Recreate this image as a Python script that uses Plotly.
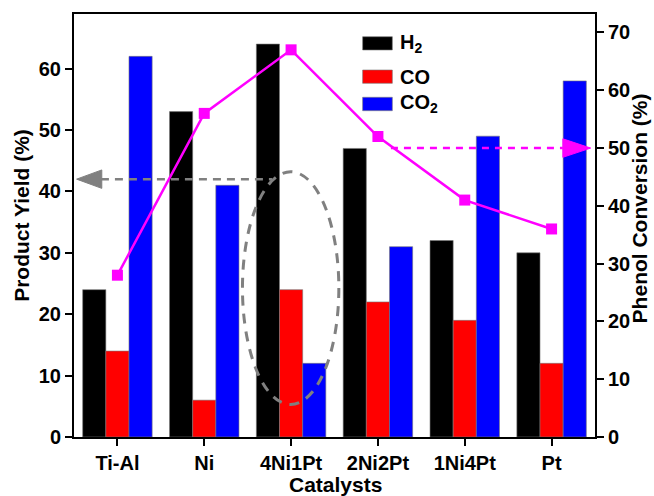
import plotly.graph_objects as go

# Catalyst screening: product yields (left axis) and phenol conversion (right axis)
catalysts = ["Ti-Al", "Ni", "4Ni1Pt", "2Ni2Pt", "1Ni4Pt", "Pt"]
h2_yield = [24, 53, 64, 47, 32, 30]
co_yield = [14, 6, 24, 22, 19, 12]
co2_yield = [62, 41, 12, 31, 49, 58]
phenol_conversion = [28, 56, 67, 52, 41, 36]

yield_ticks = [0, 10, 20, 30, 40, 50, 60]
conversion_ticks = [0, 10, 20, 30, 40, 50, 60, 70]

# reference levels pointed at by the dashed arrows
yield_marker_level = 42
conversion_marker_level = 50

FONT = "Liberation Sans, Arial, sans-serif"
x_idx = list(range(len(catalysts)))

fig = go.Figure()
for name, vals, color in [("H<sub>2</sub>", h2_yield, "#000000"),
                          ("CO", co_yield, "#FF0000"),
                          ("CO<sub>2</sub>", co2_yield, "#0000FF")]:
    fig.add_trace(go.Bar(x=x_idx, y=vals, name=name, marker_color=color,
                         marker_line=dict(color="#777777", width=0.6),
                         showlegend=False))

fig.add_trace(go.Scatter(x=x_idx, y=phenol_conversion, yaxis="y2",
                         mode="lines+markers", name="Phenol conversion",
                         line=dict(color="#FF00FF", width=2.5),
                         marker=dict(symbol="square", size=11, color="#FF00FF"),
                         showlegend=False))

shapes = []
# gray dashed arrow toward the yield axis
shapes.append(dict(type="line", xref="x", yref="y", x0=-0.19, x1=1.78,
                   y0=yield_marker_level, y1=yield_marker_level,
                   line=dict(color="#808080", width=2.5, dash="8px,6px")))
shapes.append(dict(type="path", xref="x", yref="y",
                   path=f"M -0.47,{yield_marker_level} L -0.18,{yield_marker_level + 1.5} "
                        f"L -0.18,{yield_marker_level - 1.5} Z",
                   fillcolor="#808080", line=dict(color="#808080", width=1)))
# magenta dashed arrow toward the conversion axis
shapes.append(dict(type="line", xref="x", yref="y2", x0=3.15, x1=5.13,
                   y0=conversion_marker_level, y1=conversion_marker_level,
                   line=dict(color="#FF00FF", width=2.5, dash="7px,6px")))
shapes.append(dict(type="path", xref="x", yref="y2",
                   path=f"M 5.45,{conversion_marker_level} L 5.13,{conversion_marker_level + 1.6} "
                        f"L 5.13,{conversion_marker_level - 1.6} Z",
                   fillcolor="#FF00FF", line=dict(color="#FF00FF", width=1)))
# dashed ellipse around the 4Ni1Pt group
shapes.append(dict(type="circle", xref="x", yref="y", x0=1.44, x1=2.55, y0=5.3, y1=43.2,
                   line=dict(color="#808080", width=3, dash="10px,8px")))

# hand-drawn legend
legend_items = [("H<sub>2</sub>", "#000000", 0.9463, 0.9149),
                ("CO", "#FF0000", 0.8676, 0.8362),
                ("CO<sub>2</sub>", "#0000FF", 0.8031, 0.7714)]
annotations = []
for label, color, ytop, ybot in legend_items:
    shapes.append(dict(type="rect", xref="paper", yref="paper", x0=0.554, x1=0.611,
                       y0=ybot, y1=ytop, fillcolor=color,
                       line=dict(color="#777777", width=0.6)))
    annotations.append(dict(xref="paper", yref="paper", x=0.622, y=(ytop + ybot) / 2,
                            text=f"<b>{label}</b>", showarrow=False, xanchor="left",
                            yanchor="middle", font=dict(size=20, family=FONT, color="black")))

# axis titles
title_font = dict(size=21, family=FONT, color="black")
annotations.append(dict(xref="paper", yref="paper", x=-0.10, y=0.525,
                        xanchor="center", yanchor="middle",
                        text="<b>Product Yield (%)</b>", textangle=-90, showarrow=False,
                        font=title_font))
annotations.append(dict(xref="paper", yref="paper", x=1.086, y=0.54,
                        xanchor="center", yanchor="middle",
                        text="<b>Phenol Conversion (%)</b>", textangle=-90, showarrow=False,
                        font=title_font))
annotations.append(dict(xref="paper", yref="paper", x=0.501, y=-0.112,
                        xanchor="center", yanchor="middle",
                        text="<b>Catalysts</b>", showarrow=False,
                        font=title_font))

tick_font = dict(size=20, family=FONT, color="black")
fig.update_layout(
    width=654, height=496,
    margin=dict(l=74, r=59, t=14, b=59),
    paper_bgcolor="white", plot_bgcolor="white",
    barmode="group", bargap=0.2, bargroupgap=0,
    font=dict(family=FONT, color="black"),
    xaxis=dict(range=[-0.5, 5.5], tickmode="array", tickvals=x_idx,
               ticktext=[f"<b>{c}</b>" for c in catalysts], tickfont=tick_font,
               showline=True, linecolor="black", linewidth=2, mirror=True,
               ticks="outside", ticklen=7, tickwidth=2, tickcolor="black",
               showgrid=False, zeroline=False, automargin=False),
    yaxis=dict(range=[0, 68.9], tickmode="array", tickvals=yield_ticks,
               ticktext=[f"<b>{t}</b>" for t in yield_ticks], tickfont=tick_font,
               showline=True, linecolor="black", linewidth=2,
               ticks="outside", ticklen=7, tickwidth=2, tickcolor="black",
               showgrid=False, zeroline=False, automargin=False),
    yaxis2=dict(range=[0, 73.2], overlaying="y", side="right", tickmode="array",
                tickvals=conversion_ticks,
                ticktext=[f"<b>{t}</b>" for t in conversion_ticks], tickfont=tick_font,
                showline=True, linecolor="black", linewidth=2,
                ticks="outside", ticklen=7, tickwidth=2, tickcolor="black",
                showgrid=False, zeroline=False, automargin=False),
    shapes=shapes, annotations=annotations,
)

fig.write_html("out.html")
